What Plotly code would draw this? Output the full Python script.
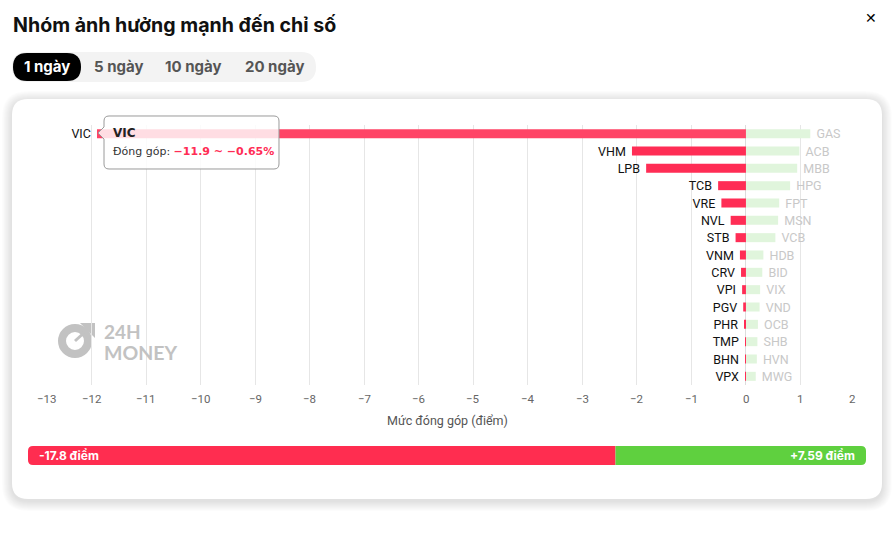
import plotly.graph_objects as go

# ---------------- data ----------------
neg_names = ["VIC", "VHM", "LPB", "TCB", "VRE", "NVL", "STB", "VNM", "CRV", "VPI", "PGV", "PHR", "TMP", "BHN", "VPX"]
neg_values = [-11.9, -2.09, -1.83, -0.51, -0.45, -0.28, -0.19, -0.11, -0.09, -0.07, -0.05, -0.02, -0.01, -0.01, -0.01]
pos_names = ["GAS", "ACB", "MBB", "HPG", "FPT", "MSN", "VCB", "HDB", "BID", "VIX", "VND", "OCB", "SHB", "HVN", "MWG"]
pos_values = [1.18, 0.98, 0.94, 0.81, 0.61, 0.59, 0.54, 0.32, 0.30, 0.26, 0.25, 0.22, 0.21, 0.20, 0.18]
x_ticks = list(range(-13, 3))
neg_total = -17.8
pos_total = 7.59
tooltip_name = "VIC"
tooltip_value = -11.9
tooltip_pct = -0.65
tabs = ["1 ngày", "5 ngày", "10 ngày", "20 ngày"]
title_text = "Nhóm ảnh hưởng mạnh đến chỉ số"
axis_title = "Mức đóng góp (điểm)"

# ---------------- geometry helpers ----------------
W, H = 895, 543
L, R, T, B = 37, 855, 125, 385


def px(x):
    return (x - L) / (R - L)


def py(y):
    return (B - y) / (B - T)


def P(x, y):
    return f"{px(x):.5f},{py(y):.5f}"


def rrect(x0, y0, x1, y1, r, corners=(1, 1, 1, 1)):
    tl, tr, br, bl = [r * c for c in corners]
    s = f"M {P(x0 + tl, y0)} L {P(x1 - tr, y0)} "
    s += f"Q {P(x1, y0)} {P(x1, y0 + tr)} " if tr else ""
    s += f"L {P(x1, y1 - br)} "
    s += f"Q {P(x1, y1)} {P(x1 - br, y1)} " if br else ""
    s += f"L {P(x0 + bl, y1)} "
    s += f"Q {P(x0, y1)} {P(x0, y1 - bl)} " if bl else ""
    s += f"L {P(x0, y0 + tl)} "
    s += f"Q {P(x0, y0)} {P(x0 + tl, y0)} " if tl else ""
    return s + "Z"


shapes = []
annotations = []

# card shadow + card
cx0, cy0, cx1, cy1 = 12, 99, 882, 499
for i in range(10, 0, -1):
    shapes.append(dict(type="path", xref="paper", yref="paper", layer="below",
                       path=rrect(cx0 - i, cy0 - i + 2, cx1 + i, cy1 + i + 2, 16 + i),
                       fillcolor="rgba(0,0,0,0.012)", line=dict(width=0)))
shapes.append(dict(type="path", xref="paper", yref="paper", layer="below",
                   path=rrect(cx0, cy0, cx1, cy1, 16), fillcolor="white", line=dict(width=0)))

# tabs
shapes.append(dict(type="path", xref="paper", yref="paper", layer="below",
                   path=rrect(12, 52, 316, 82, 15), fillcolor="#f3f3f3", line=dict(width=0)))
shapes.append(dict(type="path", xref="paper", yref="paper", layer="below",
                   path=rrect(13, 53, 81, 81, 14), fillcolor="#000000", line=dict(width=0)))
tab_x = [47, 118.5, 193, 274]
for i, (t, xx) in enumerate(zip(tabs, tab_x)):
    annotations.append(dict(xref="paper", yref="paper", x=px(xx), y=py(67), text=f"<b>{t}</b>",
                            showarrow=False, xanchor="center", yanchor="middle",
                            font=dict(family="Inter", size=15, color="white" if i == 0 else "#555555")))

# title and close
annotations.append(dict(xref="paper", yref="paper", x=px(11), y=py(25), text=f"<b>{title_text}</b>",
                        showarrow=False, xanchor="left", yanchor="middle",
                        font=dict(family="Inter", size=19.6, color="#111111")))
annotations.append(dict(xref="paper", yref="paper", x=px(871), y=py(18), text="<b>✕</b>",
                        showarrow=False, xanchor="center", yanchor="middle",
                        font=dict(family="DejaVu Sans", size=14, color="#000000")))

# watermark
shapes.append(dict(type="circle", xref="paper", yref="paper", layer="below",
                   x0=px(62), x1=px(88), y0=py(328), y1=py(354),
                   line=dict(color="#c2c2c2", width=8), fillcolor="rgba(0,0,0,0)"))
shapes.append(dict(type="path", xref="paper", yref="paper", layer="below",
                   path=f"M {P(80,323)} L {P(95,323)} L {P(95,338)} Z", fillcolor="#c2c2c2", line=dict(width=0)))
shapes.append(dict(type="line", xref="paper", yref="paper", layer="below",
                   x0=px(75), y0=py(341), x1=px(86), y1=py(331), line=dict(color="#c2c2c2", width=3)))
annotations.append(dict(xref="paper", yref="paper", x=px(102), y=py(331), text="<b>24H</b>",
                        showarrow=False, xanchor="left", yanchor="middle",
                        font=dict(family="Lato", size=19, color="#c2c2c2")))
annotations.append(dict(xref="paper", yref="paper", x=px(102), y=py(352), text="<b>MONEY</b>",
                        showarrow=False, xanchor="left", yanchor="middle",
                        font=dict(family="Lato", size=19.5, color="#c2c2c2")))

# tick labels (edge labels nudged inward like the reference)
for v in x_ticks:
    shift = 10 if v == x_ticks[0] else (-3 if v == x_ticks[-1] else 0)
    annotations.append(dict(xref="x", yref="paper", x=v, y=py(399), xshift=shift,
                            text=f"{v}".replace("-", "−"), showarrow=False,
                            xanchor="center", yanchor="middle",
                            font=dict(family="Roboto", size=11.5, color="#666666")))

# axis title
annotations.append(dict(xref="paper", yref="paper", x=px(447), y=py(420), text=axis_title,
                        showarrow=False, xanchor="center", yanchor="middle",
                        font=dict(family="Roboto", size=12.5, color="#555555")))

# bottom total bar
bx0, bx1, by0, by1 = 28, 866, 446, 465
split = bx0 + (bx1 - bx0) * abs(neg_total) / (abs(neg_total) + pos_total)
shapes.append(dict(type="path", xref="paper", yref="paper", layer="above",
                   path=rrect(bx0, by0, split, by1, 5, (1, 0, 0, 1)), fillcolor="#ff2d50", line=dict(width=0)))
shapes.append(dict(type="path", xref="paper", yref="paper", layer="above",
                   path=rrect(split, by0, bx1, by1, 5, (0, 1, 1, 0)), fillcolor="#5fd03f", line=dict(width=0)))
annotations.append(dict(xref="paper", yref="paper", x=px(37), y=py(455.5), text=f"<b>{neg_total:g} điểm</b>",
                        showarrow=False, xanchor="left", yanchor="middle",
                        font=dict(family="Inter", size=12, color="white")))
annotations.append(dict(xref="paper", yref="paper", x=px(857), y=py(455.5), text=f"<b>+{pos_total:g} điểm</b>",
                        showarrow=False, xanchor="right", yanchor="middle",
                        font=dict(family="Inter", size=12, color="white")))

# tooltip
tx0, ty0, tx1, ty1 = 104, 116, 279, 169
tip = (f"M {P(tx0+5, ty0)} L {P(tx1-5, ty0)} Q {P(tx1, ty0)} {P(tx1, ty0+5)} "
       f"L {P(tx1, ty1-5)} Q {P(tx1, ty1)} {P(tx1-5, ty1)} L {P(tx0+5, ty1)} "
       f"Q {P(tx0, ty1)} {P(tx0, ty1-5)} L {P(tx0, 139)} L {P(98, 133)} L {P(tx0, 127)} "
       f"L {P(tx0, ty0+5)} Q {P(tx0, ty0)} {P(tx0+5, ty0)} Z")
shapes.append(dict(type="path", xref="paper", yref="paper", layer="above", path=tip,
                   fillcolor="rgba(255,255,255,0.82)", line=dict(color="#9a9a9a", width=1)))
annotations.append(dict(xref="paper", yref="paper", x=px(111), y=py(133), text=f"<b>{tooltip_name}</b>",
                        showarrow=False, xanchor="left", yanchor="middle",
                        font=dict(family="DejaVu Sans", size=12, color="#222222")))
val_txt = f"{tooltip_value:g} ~ {tooltip_pct:g}%".replace("-", "−")
annotations.append(dict(xref="paper", yref="paper", x=px(111), y=py(151),
                        text=f"Đóng góp: <span style='color:#ff2d55'><b>{val_txt}</b></span>",
                        showarrow=False, xanchor="left", yanchor="middle",
                        font=dict(family="DejaVu Sans", size=11, color="#333333")))

# ---------------- traces ----------------
rows = list(range(len(neg_names)))
neg_colors = ["#ff4466" if i == 0 else "#ff2d55" for i in rows]
NBSP = "\u00a0"

fig = go.Figure()
fig.add_trace(go.Bar(
    y=rows, x=pos_values, orientation="h", text=[NBSP + n for n in pos_names], textposition="outside",
    textfont=dict(family="Roboto", size=12.5, color="#c8c8c8"), constraintext="none",
    marker=dict(color="#e0f5dc", line=dict(width=0)), cliponaxis=False, hoverinfo="skip",
    width=0.52))
fig.add_trace(go.Bar(
    y=rows, x=neg_values, orientation="h", text=[n + NBSP for n in neg_names], textposition="outside",
    textfont=dict(family="Roboto", size=12.5, color="#111111"), constraintext="none",
    marker=dict(color=neg_colors, line=dict(width=0)), cliponaxis=False, hoverinfo="skip",
    width=0.52))

fig.update_layout(
    width=W, height=H, barmode="overlay", showlegend=False,
    margin=dict(l=L, r=W - R, t=T, b=H - B, pad=0),
    paper_bgcolor="white", plot_bgcolor="rgba(0,0,0,0)",
    xaxis=dict(range=[x_ticks[0], x_ticks[-1]], tickvals=x_ticks, showgrid=True, gridcolor="#e6e6e6",
               gridwidth=1, zeroline=True, zerolinecolor="#dcdcdc", zerolinewidth=1, showline=False,
               ticks="", showticklabels=False, fixedrange=True),
    yaxis=dict(range=[len(rows) - 0.5, -0.5], showticklabels=False, showgrid=False, zeroline=False,
               showline=False, ticks="", fixedrange=True),
    shapes=shapes, annotations=annotations,
)

fig.write_html("out.html", config={"displayModeBar": False})
